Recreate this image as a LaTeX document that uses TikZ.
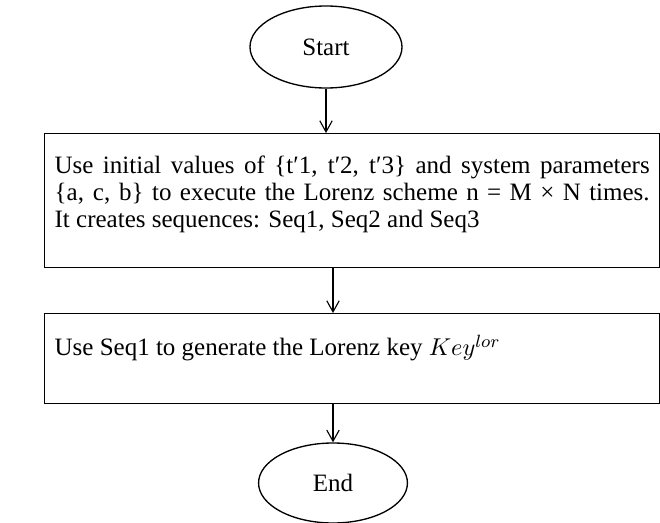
\documentclass[tikz,border=0pt]{standalone}
\usepackage{fontspec}
\setmainfont{Liberation Serif}
\usetikzlibrary{arrows.meta, shapes.geometric, calc}

\tikzset{
  terminal/.style={draw, ellipse, line width=0.6pt, inner sep=0pt},
  procbox/.style={draw, rectangle, line width=0.6pt, anchor=north west, inner xsep=4.5pt, inner ysep=9.5pt},
  flowarrow/.style={-{Straight Barb[length=5pt,width=5.6pt,line width=0.5pt]}, line width=0.5pt}
}

\begin{document}
\begin{tikzpicture}[x=0.45pt, y=-0.45pt, font=\fontsize{11.25pt}{12.15pt}\selectfont]
  \useasboundingbox (0,0) rectangle (660,523);

  \node[terminal, minimum width=68.4pt, minimum height=36.9pt] (start) at (326,47) {Start};

  \node[procbox] (lorenz) at (44,133) {\parbox[t][41.3pt][t]{267.75pt}{\strut Use initial values of \{t′1, t′2, t′3\} and system parameters\linebreak
    \{a, c, b\} to execute the Lorenz scheme n = M × N times.\linebreak
    It creates sequences: Seq1, Seq2 and Seq3}};

  \node[procbox] (keygen) at (44,313) {\parbox[t][21.5pt][t]{267.75pt}{\strut Use Seq1 to generate the Lorenz key $Key^{lor}$}};

  \node[terminal, minimum width=67pt, minimum height=36pt] (stop) at (333,483) {End};

  \draw[flowarrow] (start.south) -- (start.south |- lorenz.north);
  \draw[flowarrow] (lorenz.south -| stop.north) -- (keygen.north -| stop.north);
  \draw[flowarrow] (keygen.south -| stop.north) -- (stop.north);
\end{tikzpicture}
\end{document}
